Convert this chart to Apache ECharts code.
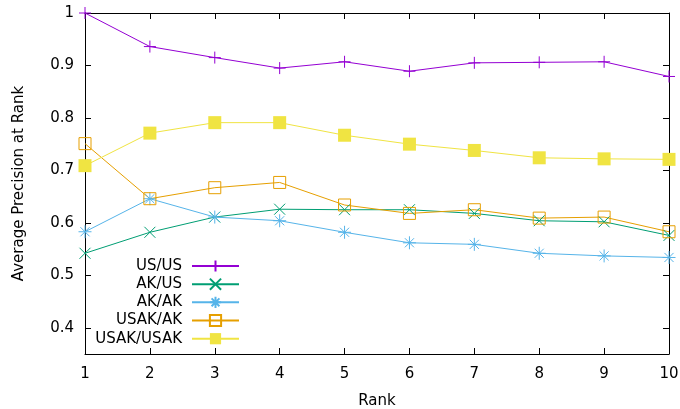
<!DOCTYPE html>
<html>
<head>
<meta charset="utf-8">
<script src="https://cdn.jsdelivr.net/npm/echarts@6/dist/echarts.min.js"></script>
<style>html,body{margin:0;padding:0;background:#fff}#c{width:680px;height:409px}</style>
</head>
<body>
<div id="c"></div>
<script>
var ranks = [1,2,3,4,5,6,7,8,9,10];
var usUs = [1.000,0.936,0.915,0.895,0.907,0.889,0.905,0.906,0.907,0.879];
var akUs = [0.542,0.582,0.611,0.626,0.625,0.625,0.618,0.604,0.602,0.576];
var akAk = [0.583,0.646,0.611,0.604,0.582,0.562,0.559,0.542,0.537,0.534];
var usakAk = [0.751,0.646,0.667,0.677,0.634,0.618,0.625,0.609,0.611,0.583];
var usakUsak = [0.709,0.771,0.791,0.791,0.767,0.750,0.738,0.724,0.722,0.721];
var seriesNames = ['US/US','AK/US','AK/AK','USAK/AK','USAK/USAK'];
var yTicks = [0.4,0.5,0.6,0.7,0.8,0.9,1.0];
var xTicks = [1,2,3,4,5,6,7,8,9,10];

var FONT = 'DejaVu Sans';
function pairs(vals){ return ranks.map(function(r,i){ return [r, vals[i]]; }); }

var styles = [
  {color:'#9400d3', symbol:'path://M5,0L5,10M0,5L10,5', size:12, fill:'#9400d3'},
  {color:'#009e73', symbol:'path://M0,0L10,10M0,10L10,0', size:11, fill:'#009e73'},
  {color:'#56b4e9', symbol:'path://M5,0L5,10M0,5L10,5M1.5,1.5L8.5,8.5M1.5,8.5L8.5,1.5', size:13, fill:'#56b4e9'},
  {color:'#e69f00', symbol:'path://M0,0L10,0L10,10L0,10Z', size:12, fill:'rgba(0,0,0,0)'},
  {color:'#f0e442', symbol:'rect', size:13, fill:'#f0e442'}
];
var datas = [usUs, akUs, akAk, usakAk, usakUsak];

var series = seriesNames.map(function(n,i){
  var s = styles[i];
  return {
    name:n, type:'line', data:pairs(datas[i]),
    symbol:s.symbol, symbolSize:s.size, clip:false,
    lineStyle:{color:s.color, width:1},
    itemStyle:{color:s.fill, borderColor:s.color, borderWidth:(i===4?0:1)},
    emphasis:{disabled:true}, animation:false
  };
});

var legendCenters = [265.5, 283.7, 301.8, 320, 338.2];
var legends = seriesNames.map(function(n,i){
  return {
    data:[n], orient:'vertical', align:'right', right:440, top:legendCenters[i]-7,
    padding:0, itemWidth:47, itemHeight:14, selectedMode:false,
    textStyle:{fontFamily:FONT, fontSize:15, color:'#000', lineHeight:14, padding:[0,5,0,0]}
  };
});

var axisLineStyle = {color:'#000', width:1};
var option = {
  animation:false,
  backgroundColor:'#fff',
  grid:{left:85, right:11, top:13, bottom:55, containLabel:false, outerBoundsMode:'none'},
  legend: legends,
  xAxis:[{
    type:'value', min:1, max:10, interval:1,
    name:'Rank', nameLocation:'middle', nameGap:40,
    nameTextStyle:{fontFamily:FONT, fontSize:15, color:'#000'},
    axisLine:{show:true, lineStyle:axisLineStyle},
    axisTick:{show:true, inside:true, length:6, lineStyle:axisLineStyle, customValues:xTicks},
    axisLabel:{fontFamily:FONT, fontSize:15, color:'#000', margin:13, customValues:xTicks},
    splitLine:{show:false}
  },{
    type:'value', min:1, max:10, interval:1, position:'top',
    axisLine:{show:true, lineStyle:axisLineStyle},
    axisTick:{show:true, inside:true, length:6, lineStyle:axisLineStyle},
    axisLabel:{show:false}, splitLine:{show:false}
  }],
  yAxis:[{
    type:'value', min:0.35, max:1,
    name:'Average Precision at Rank', nameLocation:'middle', nameGap:58,
    nameTextStyle:{fontFamily:FONT, fontSize:15, color:'#000'},
    axisLine:{show:true, lineStyle:axisLineStyle},
    axisTick:{show:true, inside:true, length:6, lineStyle:axisLineStyle, customValues:yTicks},
    axisLabel:{fontFamily:FONT, fontSize:15, color:'#000', margin:11, customValues:yTicks,
      formatter:function(v){ return Math.abs(v-1)<1e-9 ? '1' : v.toFixed(1); }},
    splitLine:{show:false}
  },{
    type:'value', min:0.35, max:1, position:'right',
    axisLine:{show:true, lineStyle:axisLineStyle},
    axisTick:{show:true, inside:true, length:6, lineStyle:axisLineStyle, customValues:yTicks},
    axisLabel:{show:false}, splitLine:{show:false}
  }],
  series: series
};
var chart = echarts.init(document.getElementById('c'), null, {renderer:'canvas'});
chart.setOption(option);
</script>
</body>
</html>
